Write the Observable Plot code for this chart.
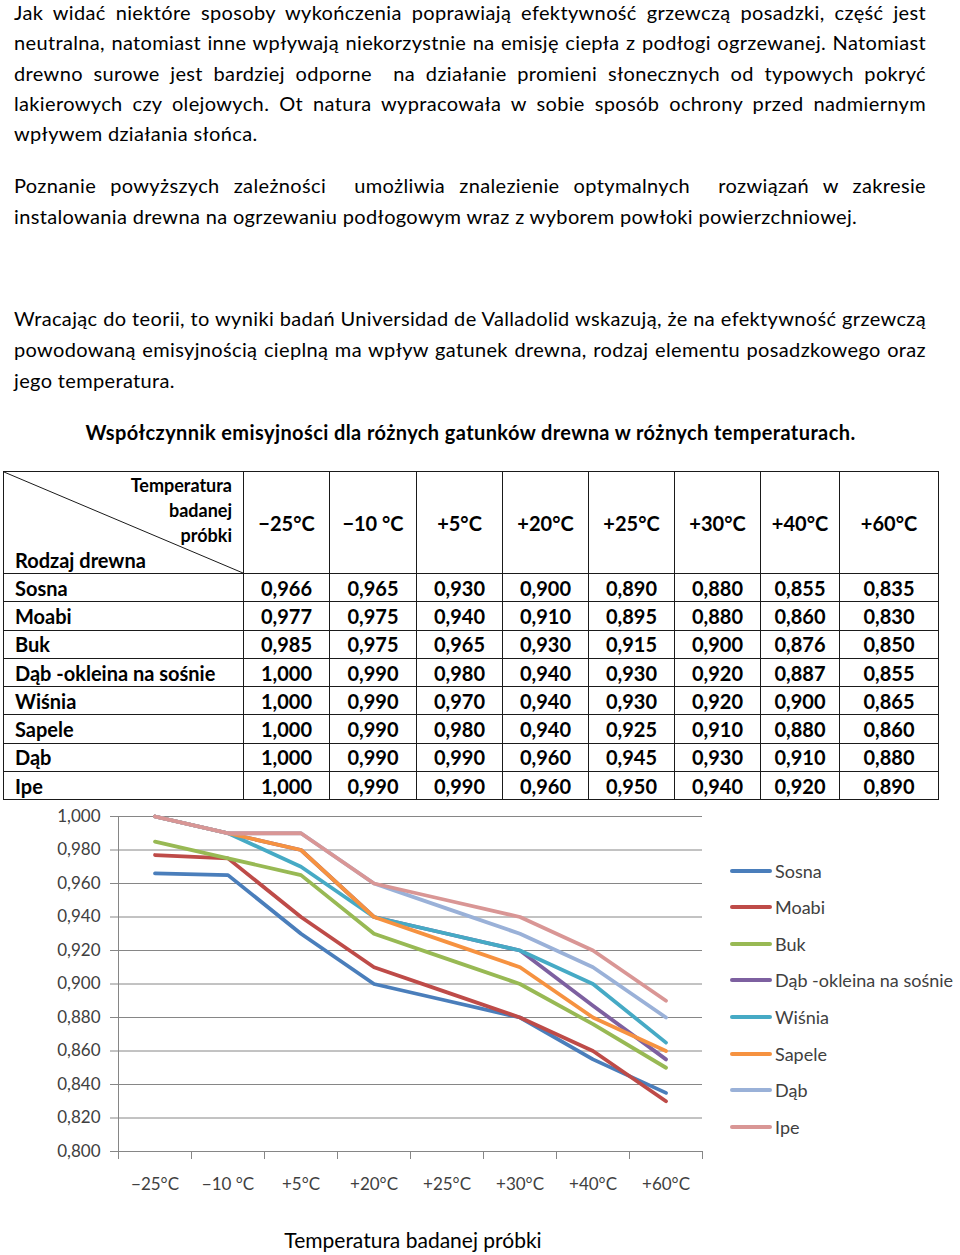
<!DOCTYPE html>
<html><head><meta charset="utf-8">
<script src="https://cdn.jsdelivr.net/npm/d3@7"></script>
<script src="https://cdn.jsdelivr.net/npm/@observablehq/plot@0.6"></script>
<style>
html,body{margin:0;padding:0;background:#fff}
body{width:960px;height:1255px;position:relative;overflow:hidden;font-family:Lato,"Open Sans",sans-serif;color:#000}
.txt{position:absolute;left:14px;width:912px;font-size:20px;letter-spacing:0.35px;line-height:31px}
.txt .l{white-space:nowrap}
.txt .j{white-space:normal;text-align:justify;text-align-last:justify}
#caption{position:absolute;left:0;width:941px;top:417px;text-align:center;font-weight:bold;font-size:20px;letter-spacing:0.4px;line-height:31px}
#tbl{position:absolute;left:3px;top:471px;border-collapse:collapse;table-layout:fixed;font-weight:bold;font-size:20px}
#tbl td{border:1px solid #1a1a1a;padding:0;text-align:center;vertical-align:middle;line-height:22px;white-space:nowrap}
#tbl td.name{text-align:left;padding-left:11px}
#tbl tr.body{height:28.3px}
#tbl tr.head{height:102px}
.corner{position:relative;}
.corner svg{position:absolute;left:0;top:0;width:100%;height:100%}
.corner .tr{position:absolute;right:11px;top:1px;text-align:right;font-size:18px;line-height:25px}
.corner .bl{position:absolute;left:11px;bottom:1px;text-align:left;font-size:20px;line-height:24px}
#chart{position:absolute;left:0;top:800px}
#legend{position:absolute;left:730px;top:852.4px;font-size:18px;color:#404040}
#legend .row{height:36.6px;display:flex;align-items:center;white-space:nowrap}
#legend .sw{display:inline-block;width:42px;height:4px;margin-right:3px;border-radius:2px}
#xtitle{position:absolute;left:0;width:826px;top:1228px;text-align:center;font-size:21px;line-height:24px;color:#000}
</style>
</head><body>
<div id="p1" class="txt" style="top:-3px;line-height:30.25px"></div>
<div id="p2" class="txt" style="top:170px"></div>
<div id="p3" class="txt" style="top:303px"></div>
<div id="caption"></div>
<table id="tbl"></table>
<div id="chart"></div>
<div id="legend"></div>
<div id="xtitle"></div>
<script>
// ---------- text ----------
const paragraph1 = [
  "Jak widać niektóre sposoby wykończenia poprawiają efektywność grzewczą posadzki, część jest",
  "neutralna, natomiast inne wpływają niekorzystnie na emisję ciepła z podłogi ogrzewanej. Natomiast",
  "drewno surowe jest bardziej odporne\u00a0 na działanie promieni słonecznych od typowych pokryć",
  "lakierowych czy olejowych. Ot natura wypracowała w sobie sposób ochrony przed nadmiernym",
  "wpływem działania słońca."
];
const paragraph2 = [
  "Poznanie powyższych zależności\u00a0 umożliwia znalezienie optymalnych\u00a0 rozwiązań w zakresie",
  "instalowania drewna na ogrzewaniu podłogowym wraz z wyborem powłoki powierzchniowej."
];
const paragraph3 = [
  "Wracając do teorii, to wyniki badań Universidad de Valladolid wskazują, że na efektywność grzewczą",
  "powodowaną emisyjnością cieplną ma wpływ gatunek drewna, rodzaj elementu posadzkowego oraz",
  "jego temperatura."
];
const captionText = "Współczynnik emisyjności dla różnych gatunków drewna w różnych temperaturach.";
const cornerTop = ["Temperatura", "badanej", "próbki"];
const cornerBottom = "Rodzaj drewna";
const axisTitle = "Temperatura badanej próbki";

// ---------- data ----------
const temperatures = ["−25°C", "−10 °C", "+5°C", "+20°C", "+25°C", "+30°C", "+40°C", "+60°C"];
const woods = ["Sosna", "Moabi", "Buk", "Dąb -okleina na sośnie", "Wiśnia", "Sapele", "Dąb", "Ipe"];
const sosna   = [0.966, 0.965, 0.930, 0.900, 0.890, 0.880, 0.855, 0.835];
const moabi   = [0.977, 0.975, 0.940, 0.910, 0.895, 0.880, 0.860, 0.830];
const buk     = [0.985, 0.975, 0.965, 0.930, 0.915, 0.900, 0.876, 0.850];
const dabOkleina = [1.000, 0.990, 0.980, 0.940, 0.930, 0.920, 0.887, 0.855];
const wisnia  = [1.000, 0.990, 0.970, 0.940, 0.930, 0.920, 0.900, 0.865];
const sapele  = [1.000, 0.990, 0.980, 0.940, 0.925, 0.910, 0.880, 0.860];
const dab     = [1.000, 0.990, 0.990, 0.960, 0.945, 0.930, 0.910, 0.880];
const ipe     = [1.000, 0.990, 0.990, 0.960, 0.950, 0.940, 0.920, 0.890];
const yTicks  = [0.800, 0.820, 0.840, 0.860, 0.880, 0.900, 0.920, 0.940, 0.960, 0.980, 1.000];

const series = [sosna, moabi, buk, dabOkleina, wisnia, sapele, dab, ipe];
const colors = ["#4a7ebb", "#be4b48", "#98b954", "#7d60a0", "#46aac5", "#f69240", "#9ab1d8", "#d99695"];
const fmt = v => d3.format(".3f")(v).replace(".", ",");

// ---------- paragraphs ----------
function fillPara(id, lines) {
  const el = d3.select("#" + id);
  lines.forEach((t, i) => {
    el.append("div").attr("class", i < lines.length - 1 ? "l j" : "l").text(t);
  });
}
fillPara("p1", paragraph1);
fillPara("p2", paragraph2);
fillPara("p3", paragraph3);
d3.select("#caption").text(captionText);

// ---------- table ----------
const colWidths = [240, 86, 87, 86, 86, 86, 86, 79, 99];
const tbl = d3.select("#tbl");
const cg = tbl.append("colgroup");
colWidths.forEach(w => cg.append("col").style("width", w + "px"));
const head = tbl.append("tr").attr("class", "head");
const corner = head.append("td").attr("class", "corner");
corner.html('<svg preserveAspectRatio="none" viewBox="0 0 100 100"><line x1="0" y1="0" x2="100" y2="100" stroke="#1a1a1a" stroke-width="1" vector-effect="non-scaling-stroke"/></svg>');
corner.append("div").attr("class", "tr").html(cornerTop.join("<br>"));
corner.append("div").attr("class", "bl").text(cornerBottom);
temperatures.forEach(t => head.append("td").text(t));
woods.forEach((w, i) => {
  const tr = tbl.append("tr").attr("class", "body");
  tr.append("td").attr("class", "name").text(w);
  series[i].forEach(v => tr.append("td").text(fmt(v)));
});

// ---------- chart ----------
const rows = woods.flatMap((w, i) => series[i].map((v, j) => ({wood: w, t: j, v})));
const n = temperatures.length;
const chart = Plot.plot({
  width: 720,
  height: 410,
  marginTop: 16,
  marginBottom: 59,
  marginLeft: 118,
  marginRight: 18,
  style: {fontFamily: "Lato, sans-serif", fontSize: "17px", color: "#404040", background: "transparent", overflow: "visible"},
  x: {domain: [-0.5, n - 0.5], label: null},
  y: {domain: [yTicks[0], yTicks[yTicks.length - 1]], label: null},
  color: {domain: woods, range: colors},
  marks: [
    Plot.gridY(yTicks, {stroke: "#868686", strokeOpacity: 1}),
    Plot.ruleX([-0.5], {stroke: "#868686"}),
    Plot.ruleY([yTicks[0]], {stroke: "#868686"}),
    Plot.axisY(yTicks, {tickSize: 8, tickPadding: 10, tickFormat: fmt, stroke: "#868686", label: null}),
    Plot.axisX(d3.range(-0.5, n, 1), {tickSize: 8, tickFormat: () => "", stroke: "#868686", label: null}),
    Plot.axisX(d3.range(n), {tickSize: 0, tickPadding: 26, tickFormat: i => temperatures[i], label: null}),
    Plot.lineY(rows, {x: "t", y: "v", z: "wood", stroke: "wood", strokeWidth: 3.8, strokeLinejoin: "round", strokeLinecap: "round"})
  ]
});
document.getElementById("chart").appendChild(chart);

// legend
const lg = d3.select("#legend");
woods.forEach((w, i) => {
  const r = lg.append("div").attr("class", "row");
  r.append("span").attr("class", "sw").style("background", colors[i]);
  r.append("span").text(w);
});
d3.select("#xtitle").text(axisTitle);
</script>
</body></html>
